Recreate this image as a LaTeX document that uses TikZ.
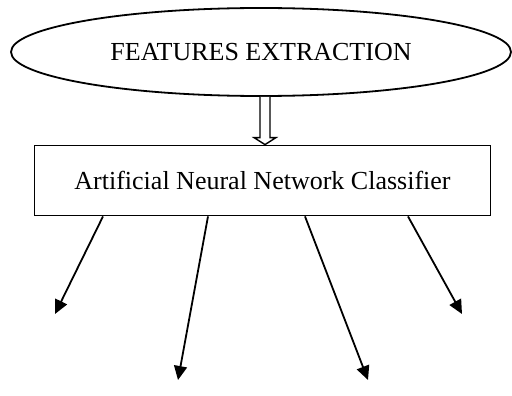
\documentclass[tikz,border=0pt]{standalone}
\usepackage{fontspec}
\setmainfont{Liberation Serif}
\usepackage{tikz}
\usetikzlibrary{calc,arrows.meta,shapes.geometric}
\tikzset{
	stage/.style={draw, line width=1.8pt, ellipse, minimum width=500pt, minimum height=88pt, inner sep=0pt, font=\fontsize{26}{30}\selectfont},
	classbox/.style={draw, line width=1.8pt, rectangle, minimum width=456pt, minimum height=70pt, inner sep=0pt, font=\fontsize{26}{30}\selectfont},
	outarrow/.style={line width=1.8pt, -{Triangle[length=14pt,width=13pt]}},
}

\begin{document}
\begin{tikzpicture}[x=1pt, y=-1pt]
		%%%%% START %%%%%
		\useasboundingbox (0, 0) rectangle (512, 396);
		
		\node[stage] (fe) at (261, 52) {FEATURES EXTRACTION};
		\node[classbox] (ann) at (262.5, 180.5) {Artificial Neural Network Classifier};
		
		% hollow arrow between the two
		\coordinate (dtop) at (fe.south -| 265, 0);
		\coordinate (dtip) at (ann.north -| 265, 0);
		\draw[line width=1.4pt, fill=white] ($(dtop)+(-5, 0)$) -- ($(dtip)+(-5, -7)$) -- ($(dtip)+(-11, -7)$) -- (dtip)
			-- ($(dtip)+(11, -7)$) -- ($(dtip)+(5, -7)$) -- ($(dtop)+(5, 0)$);
		
		% outputs
		\coordinate (o1) at (55, 314);
		\coordinate (o2) at (178, 380);
		\coordinate (o3) at (368, 380);
		\coordinate (o4) at (462, 314);
		
		\draw[outarrow] (ann.south -| 103, 0) -- (o1);
		\draw[outarrow] (ann.south -| 208, 0) -- (o2);
		\draw[outarrow] (ann.south -| 305, 0) -- (o3);
		\draw[outarrow] (ann.south -| 408, 0) -- (o4);
		
		%%%%% END %%%%%
	\end{tikzpicture}
\end{document}
